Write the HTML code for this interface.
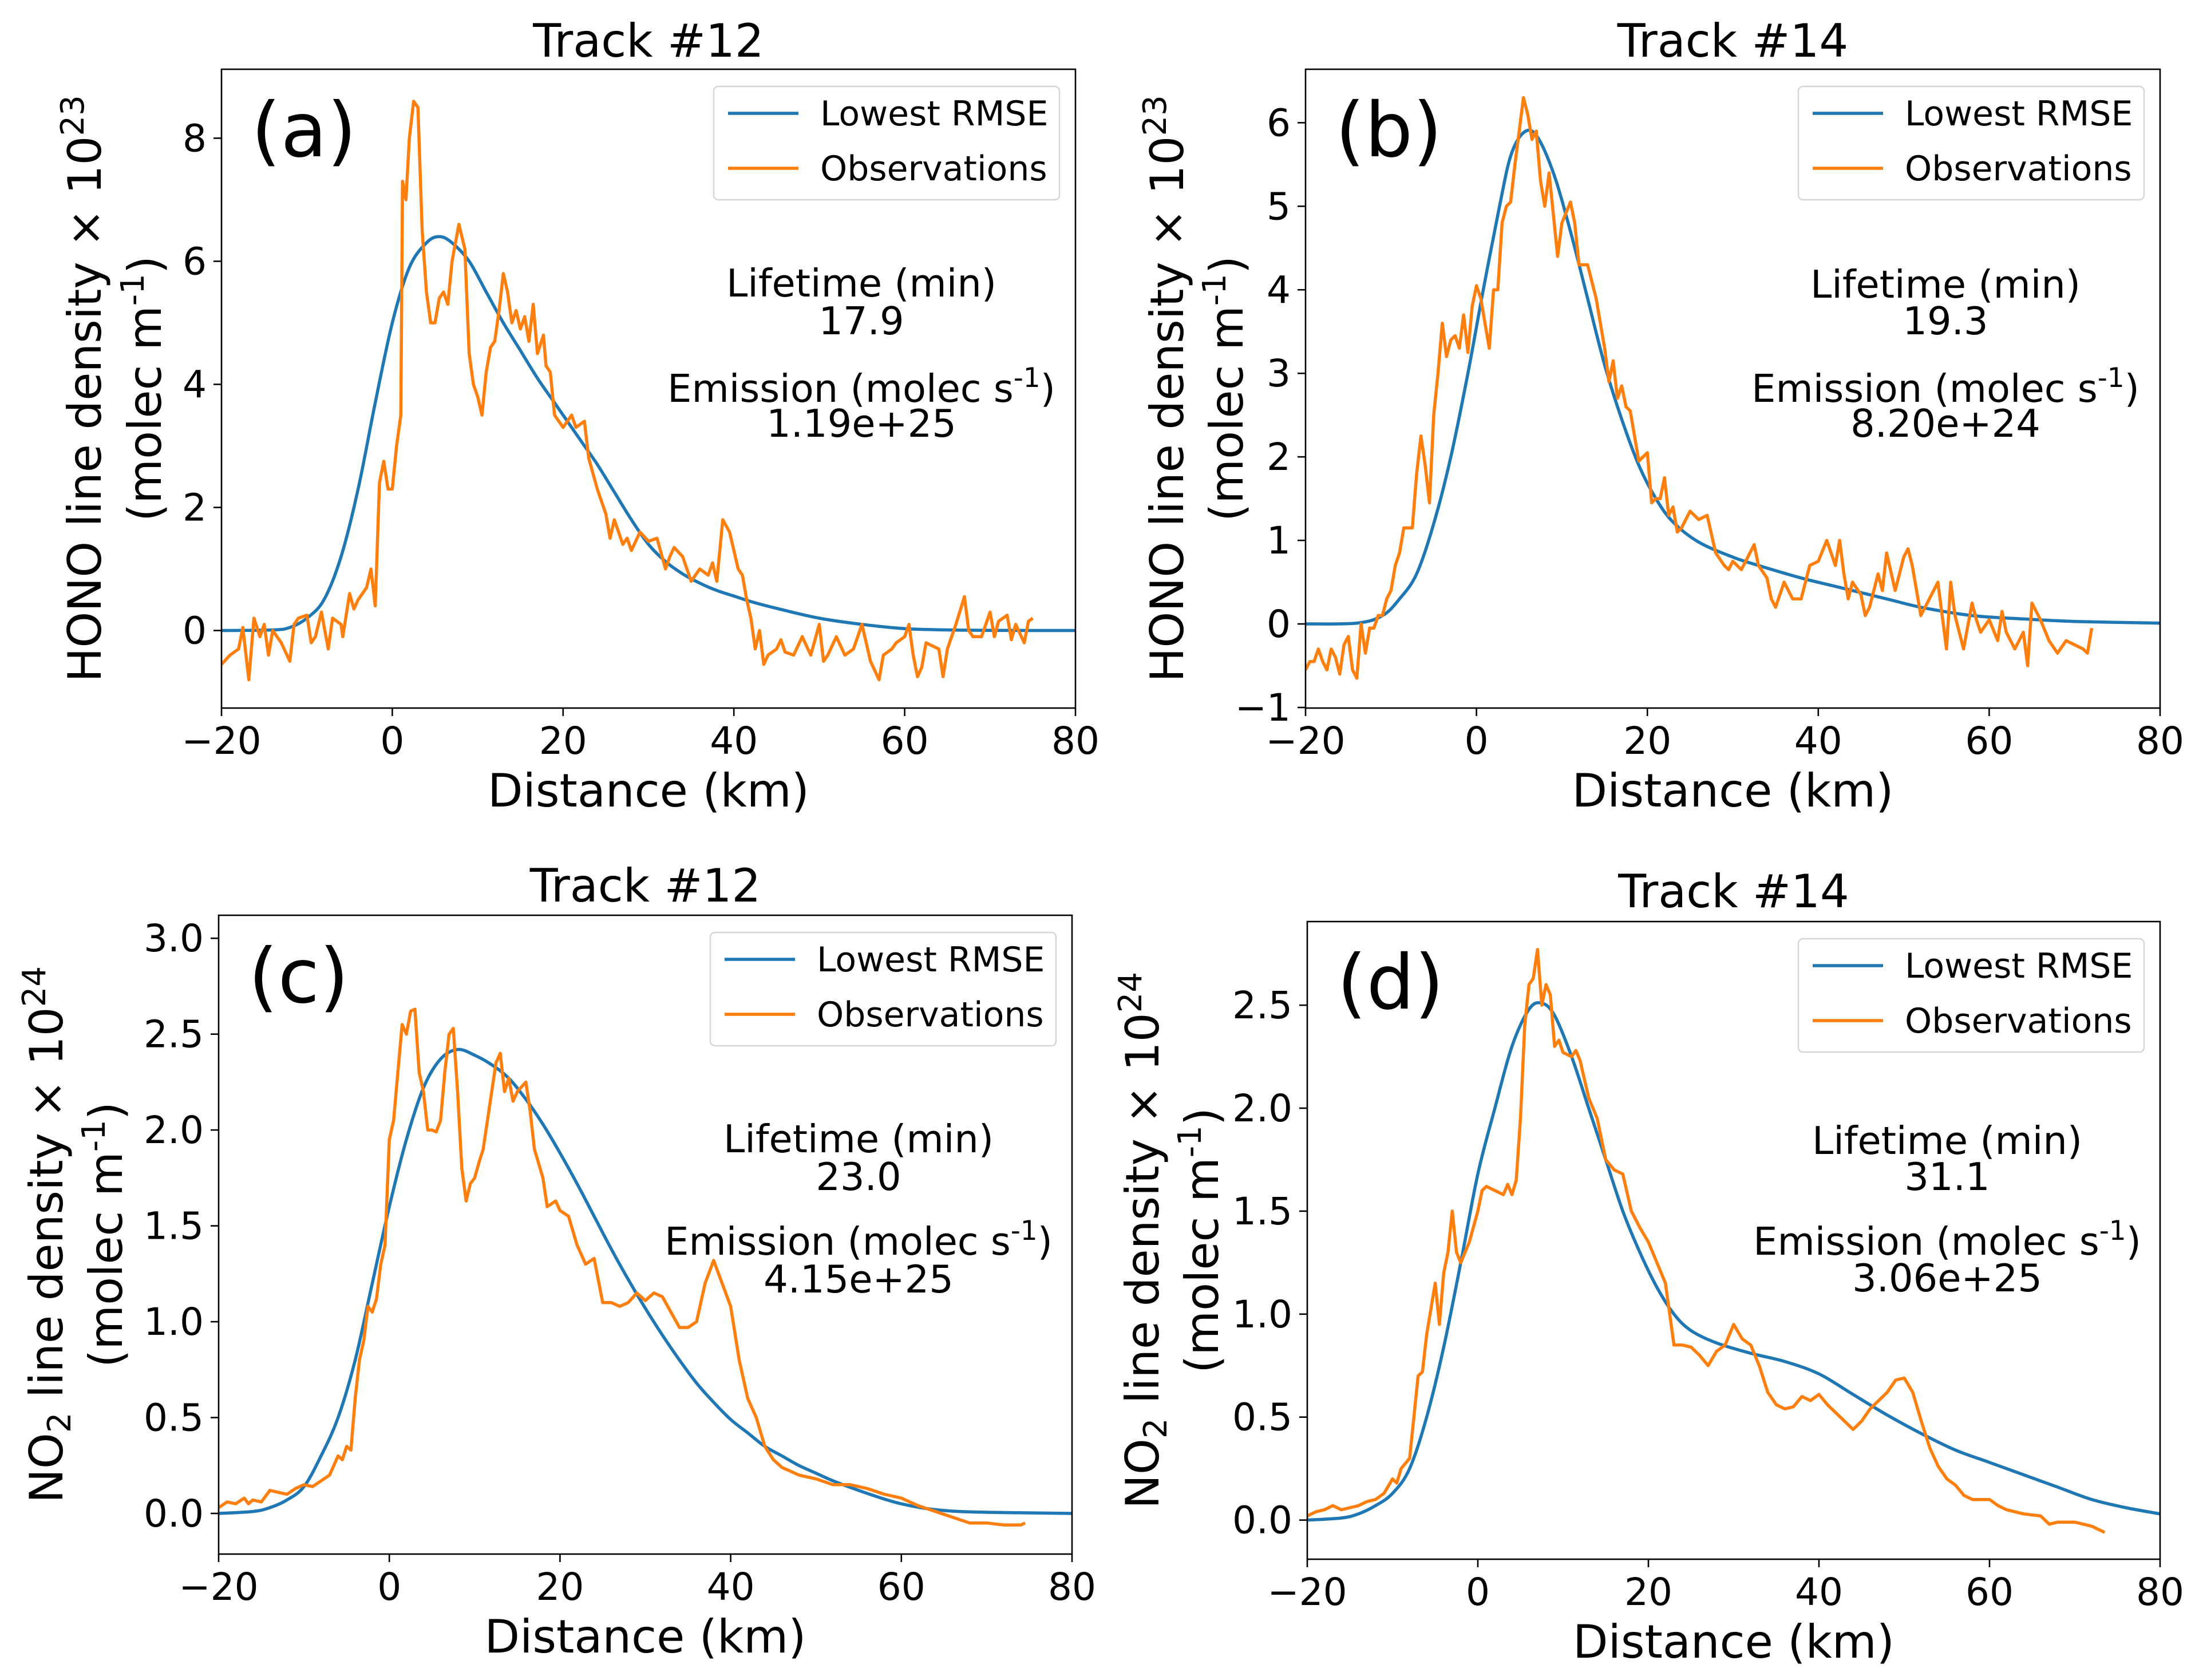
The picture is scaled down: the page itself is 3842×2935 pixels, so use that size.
<!DOCTYPE html>
<html>
<head>
<meta charset="utf-8">
<style>
  html,body{margin:0;padding:0;background:#fff;}
  svg{display:block;}
  text{font-family:"DejaVu Sans","Liberation Sans",sans-serif;fill:#000;}
</style>
</head>
<body>
<svg id="fig" xmlns="http://www.w3.org/2000/svg" width="3842" height="2935" viewBox="0 0 3842 2935">
  <rect x="0" y="0" width="3842" height="2935" fill="#fff"/>
</svg>
<script>
// ---------- Panel (a) HONO Track 12 ----------
const obsA_x = [-20,-19,-18,-17.5,-16.8,-16.2,-15.5,-15,-14.5,-14,-13,-12,-11.5,-11,-10,-9.5,-9,-8.3,-7.5,-7,-6,-5.8,-5,-4.5,-4,-3,-2.5,-2,-1.5,-1,-0.5,0,0.5,1,1.2,1.6,2,2.5,3,3.5,4,4.5,5,5.5,6,6.5,7,7.8,8.5,9,9.5,10,10.5,11,11.5,12,12.5,13,13.5,14,14.5,15,15.5,16,16.5,17,17.7,18,18.5,19,20,21,21.5,22.5,23,24,24.5,25,25.5,26,27,27.5,28,29,30,31,32,32.5,33,34,35,36,37,37.5,38,38.7,39.5,40.5,41,41.5,42,42.5,43,43.5,44,45,45.5,46,47,48,49,50,50.5,51,52,53,54,55,56,57,57.5,58.5,59,60,60.5,61,61.5,62,62.5,64,64.5,65,66,67,67.5,68,69,70,70.5,71,72,72.5,73,74,74.5,75];
const obsA_y = [-0.55,-0.4,-0.3,0.05,-0.8,0.2,-0.1,0.1,-0.4,0,-0.2,-0.5,0.1,0.2,0.25,-0.2,-0.1,0.3,-0.3,0.2,0.1,-0.1,0.6,0.35,0.5,0.7,1.0,0.4,2.4,2.75,2.3,2.3,3.0,3.5,7.3,7.0,8.0,8.6,8.5,6.5,5.5,5.0,5.0,5.4,5.5,5.3,6.0,6.6,6.2,4.5,4.0,3.8,3.5,4.2,4.6,4.7,5.2,5.8,5.5,5.0,5.2,4.9,5.1,4.7,5.3,4.5,4.8,4.3,4.2,3.5,3.3,3.5,3.3,3.4,2.8,2.3,2.1,1.9,1.5,1.8,1.4,1.5,1.3,1.6,1.45,1.5,1.0,1.2,1.35,1.2,0.8,1.0,0.9,1.1,0.8,1.8,1.6,1.0,0.9,0.5,0.2,-0.3,0,-0.55,-0.4,-0.3,-0.15,-0.35,-0.4,-0.1,-0.4,0.1,-0.5,-0.4,-0.1,-0.4,-0.3,0.1,-0.5,-0.8,-0.4,-0.3,-0.2,-0.1,0.1,-0.4,-0.75,-0.6,-0.2,-0.3,-0.75,-0.3,0.1,0.55,0,-0.1,-0.1,0.3,-0.1,0.15,0.25,-0.15,0.1,-0.2,0.15,0.2];
const fitA_x = [-20,-14,-12,-10,-8,-6,-4,-2,0,2,4,5.5,7,9,11,13,15,17,19,20,22,24,26,28,30,32,34,36,38,40,42,45,50,55,60,65,70,80];
const fitA_y = [0,0.01,0.05,0.2,0.5,1.2,2.3,3.7,5.0,5.9,6.3,6.4,6.3,6.0,5.5,5.0,4.55,4.1,3.7,3.5,3.1,2.7,2.25,1.8,1.4,1.12,0.92,0.77,0.65,0.56,0.47,0.36,0.2,0.1,0.03,0.01,0.002,0];
const ticksA_y = [0,2,4,6,8];

// ---------- Panel (b) HONO Track 14 ----------
const obsB_x = [-20,-19.5,-19,-18.5,-18,-17.5,-17,-16.5,-16,-15.5,-15,-14.5,-14,-13.5,-13,-12.5,-12,-11.5,-11,-10.5,-10,-9.5,-9,-8.5,-8,-7.5,-7,-6.5,-6,-5.5,-5,-4.5,-4,-3.5,-3,-2.5,-2,-1.5,-1,-0.5,0,0.5,1,1.5,2,2.5,3,3.5,4,4.5,5,5.5,6,6.5,7,7.5,8,8.5,9,9.5,10,11,11.5,12,13,13.5,14,15,15.5,16,16.5,17,17.5,18,19,20,20.5,21,21.5,22,22.5,23,23.5,24,25,26,27,28,29,29.5,30,31,32,32.5,33,34,34.5,35,36,37,38,39,40,41,42,42.5,43,43.5,44,45,45.5,46,47,47.5,48,49,50,50.5,51,52,53,54,55,55.5,56,57,58,58.5,59,60,61,61.5,62,63,64,64.5,65,66,67,68,69,70,71,71.5,72];
const obsB_y = [-0.55,-0.45,-0.45,-0.3,-0.45,-0.55,-0.3,-0.4,-0.6,-0.25,-0.15,-0.55,-0.65,0.0,-0.35,-0.05,-0.05,0.1,0.1,0.3,0.4,0.7,0.85,1.15,1.15,1.15,1.8,2.25,1.9,1.45,2.5,3.0,3.6,3.2,3.4,3.45,3.3,3.7,3.25,3.8,4.05,3.9,3.6,3.3,4.0,4.0,4.8,5.0,5.05,5.5,5.9,6.3,6.1,5.8,5.9,5.3,5.0,5.4,4.9,4.4,4.8,5.05,4.8,4.3,4.3,4.1,3.9,3.3,2.9,3.15,2.7,2.85,2.6,2.55,1.95,2.05,1.45,1.5,1.5,1.75,1.3,1.4,1.1,1.15,1.35,1.25,1.3,0.85,0.7,0.65,0.75,0.65,0.85,0.95,0.7,0.55,0.3,0.2,0.5,0.3,0.3,0.7,0.75,1.0,0.7,1.0,0.6,0.3,0.5,0.35,0.1,0.2,0.6,0.4,0.85,0.4,0.8,0.9,0.7,0.1,0.3,0.5,-0.3,0.5,0.1,-0.3,0.25,0.05,-0.1,0.05,-0.2,0.15,-0.1,-0.3,-0.1,-0.5,0.25,0.05,-0.2,-0.35,-0.2,-0.25,-0.3,-0.35,-0.05];
const fitB_x = [-20,-14,-11,-9,-7,-5,-3,-1,0.8,2.7,4,5.5,7,9,11,13,15,17,19,21,23,26,30,33,38,42,48,52,58,64,70,80];
const fitB_y = [0,0.01,0.1,0.3,0.6,1.2,2.0,3.0,4.0,5.0,5.6,5.88,5.85,5.4,4.7,3.9,3.1,2.45,1.9,1.5,1.22,0.98,0.8,0.7,0.55,0.45,0.3,0.2,0.1,0.06,0.03,0.01];
const ticksB_y = [-1,0,1,2,3,4,5,6];

// ---------- Panel (c) NO2 Track 12 ----------
const obsC_x = [-20,-19,-18,-17,-16.5,-16,-15,-14,-13,-12,-11,-10,-9,-8,-7,-6,-5.5,-5,-4.5,-4,-3.5,-3,-2.5,-2,-1.5,-1,-0.5,0,0.5,1,1.5,2,2.5,3,3.5,4,4.5,5,5.5,6,6.5,7,7.5,8,8.5,9,9.5,10,10.5,11,12,12.5,13,13.5,14,14.5,15,16,16.5,17,18,18.5,19.5,20,21,22,22.5,23,24,25,26,27,28,29,30,31,32,33,34,35,36,37,38,39,40,41,42,43,44,45,46,47,48,50,52,54,56,58,60,62,64,66,68,70,72,74,74.5];
const obsC_y = [0.03,0.06,0.05,0.08,0.05,0.07,0.06,0.12,0.11,0.1,0.13,0.15,0.14,0.17,0.2,0.3,0.28,0.35,0.33,0.6,0.8,0.9,1.08,1.05,1.12,1.3,1.4,1.95,2.05,2.3,2.55,2.5,2.62,2.63,2.3,2.2,2.0,2.0,1.99,2.05,2.3,2.5,2.53,2.2,1.8,1.63,1.72,1.75,1.83,1.9,2.2,2.35,2.4,2.2,2.27,2.15,2.2,2.25,2.1,1.9,1.75,1.6,1.63,1.58,1.55,1.4,1.35,1.3,1.33,1.1,1.1,1.08,1.1,1.15,1.11,1.15,1.13,1.05,0.97,0.97,1.0,1.2,1.32,1.2,1.08,0.8,0.6,0.5,0.35,0.28,0.24,0.22,0.2,0.18,0.15,0.15,0.13,0.1,0.08,0.04,0.01,-0.02,-0.05,-0.05,-0.06,-0.06,-0.05];
const fitC_x = [-20,-16,-14,-12,-10,-8,-6,-4,-2,0,2,4,6,8,10,12,14,16,18,20,22,24,26,28,30,32,34,36,38,40,42,44,46,48,50,52,55,58,60,63,66,70,80];
const fitC_y = [0,0.01,0.03,0.07,0.14,0.3,0.5,0.8,1.2,1.6,1.95,2.22,2.37,2.42,2.39,2.34,2.27,2.16,2.03,1.88,1.72,1.55,1.38,1.22,1.07,0.93,0.8,0.68,0.58,0.49,0.42,0.35,0.3,0.25,0.21,0.17,0.12,0.075,0.05,0.025,0.012,0.006,0];
const ticksC_y = [0,0.5,1,1.5,2,2.5,3];

// ---------- Panel (d) NO2 Track 14 ----------
const obsD_x = [-20,-19,-18,-17,-16,-15,-14,-13,-12,-11,-10,-9.5,-9,-8,-7.5,-7,-6.5,-6,-5,-4.5,-4,-3.5,-3,-2.5,-2,-1,0,0.5,1,2,3,3.5,4,4.5,5,5.5,6,6.5,7,7.5,8,8.5,9,9.5,10,11,11.5,12,13,14,15,16,17,18,19,20,21,22,23,24,25,26,27,28,29,30,31,32,33,34,35,36,37,38,39,40,41,42,43,44,45,46,47,48,49,50,51,52,53,54,55,56,57,58,60,61,62,64,66,67,68,70,72,73.5];
const obsD_y = [0.02,0.04,0.05,0.07,0.05,0.06,0.07,0.09,0.1,0.13,0.2,0.18,0.25,0.3,0.5,0.7,0.72,0.9,1.15,0.95,1.2,1.3,1.5,1.3,1.25,1.35,1.5,1.6,1.62,1.6,1.58,1.63,1.58,1.65,1.95,2.4,2.6,2.63,2.77,2.5,2.6,2.55,2.3,2.33,2.27,2.25,2.28,2.23,2.05,1.95,1.75,1.7,1.68,1.5,1.42,1.35,1.25,1.15,0.85,0.85,0.84,0.8,0.75,0.82,0.85,0.95,0.88,0.85,0.75,0.62,0.56,0.54,0.55,0.6,0.58,0.61,0.56,0.52,0.48,0.44,0.48,0.54,0.58,0.62,0.68,0.69,0.62,0.48,0.35,0.26,0.2,0.17,0.12,0.1,0.1,0.07,0.05,0.03,0.02,-0.02,-0.01,-0.01,-0.03,-0.06];
const fitD_x = [-20,-16,-14,-12,-10,-8,-6,-4,-2,0,2,4,6,7.5,9,11,13,15,17,19,21,23,25,28,32,36,40,44,48,52,56,60,64,68,72,76,80];
const fitD_y = [0,0.01,0.03,0.07,0.13,0.25,0.5,0.84,1.25,1.68,2.0,2.3,2.48,2.51,2.45,2.25,2.0,1.75,1.5,1.3,1.13,1.0,0.92,0.86,0.81,0.77,0.71,0.61,0.51,0.42,0.34,0.28,0.22,0.16,0.1,0.06,0.03];
const ticksD_y = [0,0.5,1,1.5,2,2.5];

const ticksX = [-20,0,20,40,60,80];
const legendLabels = ["Lowest RMSE","Observations"];

const NS = "http://www.w3.org/2000/svg";
const fig = document.getElementById('fig');
function mk(tag, attrs, parent){
  const e = document.createElementNS(NS, tag);
  for (const k in attrs) e.setAttribute(k, attrs[k]);
  (parent||fig).appendChild(e);
  return e;
}
function fmtNum(v, dec){
  const s = Math.abs(v).toFixed(dec);
  return (v < 0 ? "\u2212" : "") + s;
}
function smoothPath(pts){
  let d = "M" + pts[0][0].toFixed(1) + "," + pts[0][1].toFixed(1);
  for (let i = 0; i < pts.length - 1; i++){
    const p0 = pts[Math.max(0,i-1)], p1 = pts[i], p2 = pts[i+1], p3 = pts[Math.min(pts.length-1,i+2)];
    const c1x = p1[0] + (p2[0]-p0[0])/6, c1y = p1[1] + (p2[1]-p0[1])/6;
    const c2x = p2[0] - (p3[0]-p1[0])/6, c2y = p2[1] - (p3[1]-p1[1])/6;
    d += " C" + c1x.toFixed(1)+","+c1y.toFixed(1)+" "+c2x.toFixed(1)+","+c2y.toFixed(1)+" "+p2[0].toFixed(1)+","+p2[1].toFixed(1);
  }
  return d;
}

const panels = [
  {id:'a', L:387, R:1879, T:121, B:1237, ymin:-1.26, ymax:9.12, yt:ticksA_y, dec:0,
   obsX:obsA_x, obsY:obsA_y, fitX:fitA_x, fitY:fitA_y, title:"Track #12", species:"HONO", exp:"23",
   yl1:240, yl2:135, ann:[397,463,581,642], life:"17.9", emis:"1.19e+25"},
  {id:'b', L:2281, R:3774, T:121, B:1237, ymin:-1.007, ymax:6.64, yt:ticksB_y, dec:0,
   obsX:obsB_x, obsY:obsB_y, fitX:fitB_x, fitY:fitB_y, title:"Track #14", species:"HONO", exp:"23",
   yl1:243, yl2:139, ann:[399,463,581,642], life:"19.3", emis:"8.20e+24"},
  {id:'c', L:382, R:1873, T:1599, B:2715, ymin:-0.212, ymax:3.12, yt:ticksC_y, dec:1,
   obsX:obsC_x, obsY:obsC_y, fitX:fitC_x, fitY:fitC_y, title:"Track #12", species:"NO2", exp:"24",
   yl1:302, yl2:198, ann:[414,480,593,659], life:"23.0", emis:"4.15e+25"},
  {id:'d', L:2284, R:3774, T:1610, B:2724, ymin:-0.19, ymax:2.906, yt:ticksD_y, dec:1,
   obsX:obsD_x, obsY:obsD_y, fitX:fitD_x, fitY:fitD_y, title:"Track #14", species:"NO2", exp:"24",
   yl1:289, yl2:185, ann:[406,469,582,646], life:"31.1", emis:"3.06e+25"}
];

panels.forEach(p => {
  const g = mk('g', {});
  
  
  const xs = v => p.L + (v - (-20)) / 100 * (p.R - p.L);
  const ys = v => p.B - (v - p.ymin) / (p.ymax - p.ymin) * (p.B - p.T);
  const cx = (p.L + p.R) / 2, cy = (p.T + p.B) / 2;

  const cp = mk('clipPath', {id:'clip-' + p.id}, g);
  mk('rect', {x:p.L, y:p.T, width:p.R-p.L, height:p.B-p.T}, cp);

  const t = mk('text', {x:cx, y:p.id==='a'||p.id==='b' ? 99 : (p.id==='c'?1575:1585), 'text-anchor':'middle', 'font-size':80}, g);
  t.textContent = p.title;
  
  

  const fitPts = p.fitX.map((x,i)=>[xs(x), ys(p.fitY[i])]);
  const fl = mk('path', {d:smoothPath(fitPts), fill:'none', stroke:'#1f77b4', 'stroke-width':5.5, 'clip-path':'url(#clip-'+p.id+')'}, g);
  
  

  const obsD = p.obsX.map((x,i)=>(i?'L':'M') + xs(x).toFixed(1) + ',' + ys(p.obsY[i]).toFixed(1)).join(' ');
  const ol = mk('path', {d:obsD, fill:'none', stroke:'#ff7f0e', 'stroke-width':5.5, 'stroke-linejoin':'round', 'clip-path':'url(#clip-'+p.id+')'}, g);
  
  

  const fr = mk('rect', {x:p.L, y:p.T, width:p.R-p.L, height:p.B-p.T, fill:'none', stroke:'#000', 'stroke-width':2.6}, g);
  
  

  ticksX.forEach(v => {
    const X = xs(v);
    mk('line', {x1:X, x2:X, y1:p.B, y2:p.B+14, stroke:'#000', 'stroke-width':2.6}, g);
    const tl = mk('text', {x:X, y:p.B+80, 'text-anchor':'middle', 'font-size':66}, g);
    tl.textContent = fmtNum(v, 0);
    
    
  });
  p.yt.forEach(v => {
    const Y = ys(v);
    mk('line', {x1:p.L-14, x2:p.L, y1:Y, y2:Y, stroke:'#000', 'stroke-width':2.6}, g);
    const tl = mk('text', {x:p.L-26, y:Y+23, 'text-anchor':'end', 'font-size':66}, g);
    tl.textContent = fmtNum(v, p.dec);
    
    
  });

  const xl = mk('text', {x:cx, y:p.B+172, 'text-anchor':'middle', 'font-size':80}, g);
  xl.textContent = "Distance (km)";
  
  

  const x1 = p.L - p.yl1 + 29;
  const yl = mk('text', {x:x1, y:cy, 'text-anchor':'middle', 'font-size':80, transform:'rotate(-90 '+x1+' '+cy+')'}, g);
  
  
  if (p.species === 'NO2'){
    const a1 = mk('tspan', {}, yl); a1.textContent = "NO";
    const a2 = mk('tspan', {'font-size':56, dy:14}, yl); a2.textContent = "2";
    const a3 = mk('tspan', {dy:-14}, yl); a3.textContent = " line density \u00d7 10";
  } else {
    const a1 = mk('tspan', {}, yl); a1.textContent = "HONO line density \u00d7 10";
  }
  const s1 = mk('tspan', {'font-size':56, dy:-30}, yl); s1.textContent = p.exp;
  const x2 = p.L - p.yl2 + 29;
  const yl2 = mk('text', {x:x2, y:cy, 'text-anchor':'middle', 'font-size':80, transform:'rotate(-90 '+x2+' '+cy+')'}, g);
  
  
  const b1 = mk('tspan', {}, yl2); b1.textContent = "(molec m";
  const b2 = mk('tspan', {'font-size':56, dy:-30}, yl2); b2.textContent = "-1";
  const b3 = mk('tspan', {dy:30}, yl2); b3.textContent = ")";

  const pl = mk('text', {x:p.L+52, y:p.T+152, 'font-size':132}, g);
  pl.textContent = "(" + p.id + ")";
  
  

  const lg = mk('g', {}, g);
  
  
  const bx = p.R - 28 - 604, by = p.T + 30;
  mk('rect', {x:bx, y:by, width:604, height:198, rx:8, fill:'#fff', 'fill-opacity':0.8, stroke:'#d6d6d6', 'stroke-width':2.5}, lg);
  const cols = ['#1f77b4','#ff7f0e'];
  legendLabels.forEach((lab,i) => {
    const ly = by + 47 + i*96;
    const ent = mk('g', {}, lg);
    
    
    mk('line', {x1:bx+25, x2:bx+148, y1:ly, y2:ly, stroke:cols[i], 'stroke-width':5.5}, ent);
    const lt = mk('text', {x:bx+186, y:ly+21, 'font-size':60}, ent);
    lt.textContent = lab;
  });

  const ax = p.L + 1118;
  const ann = mk('g', {}, g);
  
  
  const t1 = mk('text', {x:ax, y:p.T+p.ann[0], 'text-anchor':'middle', 'font-size':67}, ann); t1.textContent = "Lifetime (min)";
  const t2 = mk('text', {x:ax, y:p.T+p.ann[1], 'text-anchor':'middle', 'font-size':67}, ann); t2.textContent = p.life;
  const t3 = mk('text', {x:ax, y:p.T+p.ann[2], 'text-anchor':'middle', 'font-size':67}, ann);
  const c1 = mk('tspan', {}, t3); c1.textContent = "Emission (molec s";
  const c2 = mk('tspan', {'font-size':47, dy:-26}, t3); c2.textContent = "-1";
  const c3 = mk('tspan', {dy:26}, t3); c3.textContent = ")";
  const t4 = mk('text', {x:ax, y:p.T+p.ann[3], 'text-anchor':'middle', 'font-size':67}, ann); t4.textContent = p.emis;
});
</script>
</body>
</html>
